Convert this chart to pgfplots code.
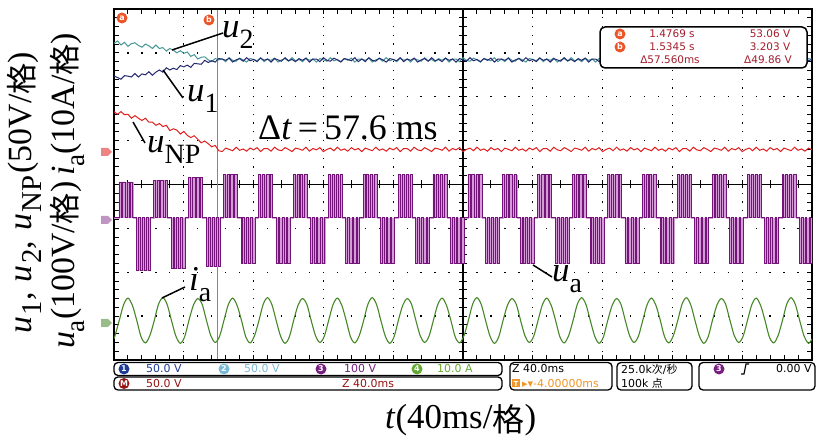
\documentclass[border=0pt]{standalone}
\usepackage{pgfplots}
\pgfplotsset{compat=1.18}
\usepackage{pgfplotstable}
\usepackage{fontspec}
\setmainfont{Liberation Serif}
\newfontfamily\cjk{Noto Sans CJK SC}
\newfontfamily\osc{DejaVu Sans}
\definecolor{cU1}{RGB}{35,40,110}
\definecolor{cU2}{RGB}{70,150,150}
\definecolor{cNP}{RGB}{225,30,30}
\definecolor{cUa}{RGB}{115,20,120}
\definecolor{cUaL}{RGB}{212,155,215}
\definecolor{cIa}{RGB}{70,135,40}
\definecolor{cCur}{RGB}{225,95,95}
\definecolor{cOr}{RGB}{235,85,40}
\definecolor{cRd}{RGB}{165,30,45}
\definecolor{chA}{RGB}{30,60,150}
\definecolor{chB}{RGB}{120,185,215}
\definecolor{chC}{RGB}{120,30,130}
\definecolor{chD}{RGB}{100,170,50}
\definecolor{chM}{RGB}{150,20,20}
\definecolor{cTrig}{RGB}{240,150,40}
\newcommand{\sub}[1]{\raisebox{-0.3em}{\scalebox{0.8}{#1}}}
\newcommand{\subw}[1]{\hspace{0.05em}\raisebox{-0.3em}{\scalebox{0.85}{#1}}}
\newcommand{\gechar}{{\cjk\raisebox{-0.06em}{\scalebox{0.92}{格}}}}
\newcommand{\chan}[4]{\fill[#3] (#1,#2) circle (5.5); \node[white, font=\osc\bfseries\fontsize{8}{8}\selectfont, inner sep=0] at (#1,#2) {#4};}

\pgfplotstableread{
x u2 u1 unp
0.00 3.22 2.47 1.66
0.05 3.27 2.44 1.60
0.10 3.18 2.40 1.66
0.15 3.24 2.48 1.59
0.20 3.15 2.47 1.60
0.25 3.21 2.45 1.51
0.30 3.23 2.53 1.57
0.35 3.17 2.45 1.51
0.40 3.13 2.52 1.46
0.45 3.20 2.50 1.51
0.50 3.16 2.57 1.42
0.55 3.10 2.49 1.42
0.60 3.18 2.56 1.35
0.65 3.10 2.61 1.39
0.70 3.12 2.56 1.32
0.75 3.04 2.66 1.35
0.80 3.10 2.61 1.23
0.85 3.06 2.65 1.27
0.90 3.00 2.62 1.24
0.95 3.05 2.71 1.15
1.00 2.99 2.68 1.21
1.05 3.02 2.72 1.12
1.10 2.92 2.67 1.07
1.15 2.96 2.76 1.11
1.20 2.86 2.75 1.03
1.25 2.90 2.74 0.95
1.30 2.91 2.83 0.99
1.35 2.84 2.78 0.93
1.40 2.80 2.82 0.86
1.45 2.87 2.79 0.89
1.50 2.84 2.87 0.77
1.55 2.86 2.86 0.75
1.60 2.80 2.83 0.83
1.65 2.89 2.88 0.80
1.70 2.83 2.79 0.77
1.75 2.81 2.84 0.85
1.80 2.88 2.87 0.78
1.85 2.84 2.81 0.81
1.90 2.79 2.89 0.76
1.95 2.87 2.82 0.83
2.00 2.85 2.85 0.79
2.05 2.82 2.80 0.84
2.10 2.89 2.88 0.75
2.15 2.80 2.83 0.82
2.20 2.86 2.86 0.82
2.25 2.83 2.79 0.76
2.30 2.88 2.87 0.85
2.35 2.79 2.84 0.79
2.40 2.84 2.81 0.77
2.45 2.87 2.89 0.84
2.50 2.81 2.82 0.80
2.55 2.89 2.85 0.75
2.60 2.82 2.80 0.83
2.65 2.85 2.87 0.81
2.70 2.80 2.83 0.78
2.75 2.88 2.88 0.85
2.80 2.83 2.79 0.76
2.85 2.86 2.86 0.82
2.90 2.79 2.86 0.79
2.95 2.87 2.80 0.84
3.00 2.84 2.89 0.75
3.05 2.81 2.83 0.80
3.10 2.89 2.81 0.83
3.15 2.82 2.88 0.77
3.20 2.85 2.84 0.85
3.25 2.80 2.79 0.78
3.30 2.87 2.87 0.81
3.35 2.83 2.85 0.76
3.40 2.88 2.82 0.84
3.45 2.79 2.89 0.79
3.50 2.86 2.80 0.82
3.55 2.86 2.86 0.75
3.60 2.83 2.80 0.83
3.65 2.88 2.89 0.80
3.70 2.79 2.83 0.77
3.75 2.84 2.81 0.85
3.80 2.87 2.88 0.78
3.85 2.81 2.84 0.81
3.90 2.89 2.79 0.76
3.95 2.82 2.87 0.83
4.00 2.85 2.85 0.79
4.05 2.80 2.82 0.84
4.10 2.88 2.89 0.75
4.15 2.83 2.80 0.82
4.20 2.86 2.86 0.82
4.25 2.79 2.83 0.76
4.30 2.87 2.88 0.85
4.35 2.84 2.79 0.79
4.40 2.81 2.84 0.77
4.45 2.89 2.87 0.84
4.50 2.82 2.81 0.80
4.55 2.85 2.89 0.75
4.60 2.80 2.82 0.83
4.65 2.87 2.85 0.81
4.70 2.83 2.80 0.78
4.75 2.88 2.88 0.85
4.80 2.79 2.83 0.76
4.85 2.86 2.86 0.82
4.90 2.86 2.79 0.79
4.95 2.80 2.87 0.84
5.00 2.89 2.84 0.75
5.05 2.83 2.81 0.80
5.10 2.81 2.89 0.83
5.15 2.88 2.82 0.77
5.20 2.84 2.85 0.85
5.25 2.79 2.80 0.78
5.30 2.87 2.87 0.81
5.35 2.85 2.83 0.76
5.40 2.82 2.88 0.84
5.45 2.89 2.79 0.79
5.50 2.80 2.86 0.82
5.55 2.86 2.86 0.75
5.60 2.80 2.83 0.83
5.65 2.89 2.88 0.80
5.70 2.83 2.79 0.77
5.75 2.81 2.84 0.85
5.80 2.88 2.87 0.78
5.85 2.84 2.81 0.81
5.90 2.79 2.89 0.76
5.95 2.87 2.82 0.83
6.00 2.85 2.85 0.79
6.05 2.82 2.80 0.84
6.10 2.89 2.88 0.75
6.15 2.80 2.83 0.82
6.20 2.86 2.86 0.82
6.25 2.83 2.79 0.76
6.30 2.88 2.87 0.85
6.35 2.79 2.84 0.79
6.40 2.84 2.81 0.77
6.45 2.87 2.89 0.84
6.50 2.81 2.82 0.80
6.55 2.89 2.85 0.75
6.60 2.82 2.80 0.83
6.65 2.85 2.87 0.81
6.70 2.80 2.83 0.78
6.75 2.88 2.88 0.85
6.80 2.83 2.79 0.76
6.85 2.86 2.86 0.82
6.90 2.79 2.86 0.79
6.95 2.87 2.80 0.84
7.00 2.84 2.89 0.75
7.05 2.81 2.83 0.80
7.10 2.89 2.81 0.83
7.15 2.82 2.88 0.77
7.20 2.85 2.84 0.85
7.25 2.80 2.79 0.78
7.30 2.87 2.87 0.81
7.35 2.83 2.85 0.76
7.40 2.88 2.82 0.84
7.45 2.79 2.89 0.79
7.50 2.86 2.80 0.82
7.55 2.86 2.86 0.75
7.60 2.83 2.80 0.83
7.65 2.88 2.89 0.80
7.70 2.79 2.83 0.77
7.75 2.84 2.81 0.85
7.80 2.87 2.88 0.78
7.85 2.81 2.84 0.81
7.90 2.89 2.79 0.76
7.95 2.82 2.87 0.83
8.00 2.85 2.85 0.79
8.05 2.80 2.82 0.84
8.10 2.88 2.89 0.75
8.15 2.83 2.80 0.82
8.20 2.86 2.86 0.82
8.25 2.79 2.83 0.76
8.30 2.87 2.88 0.85
8.35 2.84 2.79 0.79
8.40 2.81 2.84 0.77
8.45 2.89 2.87 0.84
8.50 2.82 2.81 0.80
8.55 2.85 2.89 0.75
8.60 2.80 2.82 0.83
8.65 2.87 2.85 0.81
8.70 2.83 2.80 0.78
8.75 2.88 2.88 0.85
8.80 2.79 2.83 0.76
8.85 2.86 2.86 0.82
8.90 2.86 2.79 0.79
8.95 2.80 2.87 0.84
9.00 2.89 2.84 0.75
9.05 2.83 2.81 0.80
9.10 2.81 2.89 0.83
9.15 2.88 2.82 0.77
9.20 2.84 2.85 0.85
9.25 2.79 2.80 0.78
9.30 2.87 2.87 0.81
9.35 2.85 2.83 0.76
9.40 2.82 2.88 0.84
9.45 2.89 2.79 0.79
9.50 2.80 2.86 0.82
9.55 2.86 2.86 0.75
9.60 2.80 2.83 0.83
9.65 2.89 2.88 0.80
9.70 2.83 2.79 0.77
9.75 2.81 2.84 0.85
9.80 2.88 2.87 0.78
9.85 2.84 2.81 0.81
9.90 2.79 2.89 0.76
9.95 2.87 2.82 0.83
10.00 2.85 2.85 0.79
}\dcs

\begin{document}
\begin{tikzpicture}[x=1bp,y=1bp]
\useasboundingbox (0,0) rectangle (824,445);
% dotted graticule
\foreach \i in {1,2,3,4,6,7,8,9} {
  \draw[black, line width=1.3bp, dash pattern=on 1.3bp off 7.475bp, dash phase=0.65bp] ({114+69.8*\i},85) -- ({114+69.8*\i},436);
}
\foreach \j in {1,2,3,5,6,7} {
  \draw[black, line width=1.3bp, dash pattern=on 1.3bp off 12.66bp, dash phase=0.65bp] (114,{85+43.875*\j}) -- (812,{85+43.875*\j});
}
% centre crosshair
\draw[line width=1.2bp] (463,85) -- (463,436);
\draw[line width=1.2bp] (114,260.5) -- (812,260.5);
\foreach \k in {1,...,39} { \draw[line width=1bp] (459,{85+8.775*\k}) -- (467,{85+8.775*\k}); }
\foreach \k in {1,...,49} { \draw[line width=1bp] ({114+13.96*\k},256.5) -- ({114+13.96*\k},264.5); }
% cursor b
\draw[cCur, line width=1bp] (217,85) -- (217,436);

\begin{axis}[at={(114bp,85bp)}, anchor=south west, scale only axis,
  width=698bp, height=351bp, xmin=0, xmax=10, ymin=-4, ymax=4,
  xtick={0,...,10}, ytick={-4,...,4}, minor x tick num=4, minor y tick num=4,
  xticklabels={}, yticklabels={}, tick align=inside,
  major tick length=5bp, minor tick length=5bp,
  tick style={black, line width=1bp}, axis line style={line width=1.5bp}]
% u_a envelope
\addplot[const plot, draw=cUaL, fill=cUaL, line width=0.5bp] coordinates {
(0,-0.76)
(0.07,0.06)(0.27,-0.76)(0.32,-1.95)(0.52,-0.76)(0.57,0.10)(0.77,-0.76)(0.82,-1.92)(1.02,-0.76)
(1.07,0.16)(1.27,-0.76)(1.32,-1.86)(1.52,-0.76)(1.57,0.22)(1.77,-0.76)(1.82,-1.8)(2.02,-0.76)
(2.07,0.22)(2.27,-0.76)(2.32,-1.8)(2.52,-0.76)(2.57,0.22)(2.77,-0.76)(2.82,-1.8)(3.02,-0.76)
(3.07,0.22)(3.27,-0.76)(3.32,-1.8)(3.52,-0.76)(3.57,0.22)(3.77,-0.76)(3.82,-1.8)(4.02,-0.76)
(4.07,0.22)(4.27,-0.76)(4.32,-1.8)(4.52,-0.76)(4.57,0.22)(4.77,-0.76)(4.82,-1.8)(5.02,-0.76)
(5.07,0.22)(5.27,-0.76)(5.32,-1.8)(5.52,-0.76)(5.57,0.22)(5.77,-0.76)(5.82,-1.8)(6.02,-0.76)
(6.07,0.22)(6.27,-0.76)(6.32,-1.8)(6.52,-0.76)(6.57,0.22)(6.77,-0.76)(6.82,-1.8)(7.02,-0.76)
(7.07,0.22)(7.27,-0.76)(7.32,-1.8)(7.52,-0.76)(7.57,0.22)(7.77,-0.76)(7.82,-1.8)(8.02,-0.76)
(8.07,0.22)(8.27,-0.76)(8.32,-1.8)(8.52,-0.76)(8.57,0.22)(8.77,-0.76)(8.82,-1.8)(9.02,-0.76)
(9.07,0.22)(9.27,-0.76)(9.32,-1.8)(9.52,-0.76)(9.57,0.22)(9.77,-0.76)(9.82,-1.8)(10.02,-0.76)
};
% u_a pulses
\addplot[const plot, draw=cUa, line width=0.7bp] coordinates {
(0,-0.76)
(0.07,0.06)(0.10,-0.76)(0.125,0.06)(0.16,-0.76)(0.185,0.06)(0.22,-0.76)(0.24,0.06)(0.27,-0.76)(0.32,-1.95)(0.35,-0.76)(0.375,-1.95)(0.41,-0.76)(0.435,-1.95)(0.47,-0.76)(0.49,-1.95)(0.52,-0.76)
(0.57,0.10)(0.595,-0.76)(0.62,0.10)(0.65,-0.76)(0.67,0.10)(0.705,-0.76)(0.73,0.10)(0.77,-0.76)(0.82,-1.92)(0.845,-0.76)(0.87,-1.92)(0.90,-0.76)(0.92,-1.92)(0.955,-0.76)(0.98,-1.92)(1.02,-0.76)
(1.07,0.16)(1.10,-0.76)(1.125,0.16)(1.16,-0.76)(1.185,0.16)(1.22,-0.76)(1.24,0.16)(1.27,-0.76)(1.32,-1.86)(1.35,-0.76)(1.375,-1.86)(1.41,-0.76)(1.435,-1.86)(1.47,-0.76)(1.49,-1.86)(1.52,-0.76)
(1.57,0.22)(1.595,-0.76)(1.62,0.22)(1.65,-0.76)(1.67,0.22)(1.705,-0.76)(1.73,0.22)(1.77,-0.76)(1.82,-1.8)(1.845,-0.76)(1.87,-1.8)(1.90,-0.76)(1.92,-1.8)(1.955,-0.76)(1.98,-1.8)(2.02,-0.76)
(2.07,0.22)(2.10,-0.76)(2.125,0.22)(2.16,-0.76)(2.185,0.22)(2.22,-0.76)(2.24,0.22)(2.27,-0.76)(2.32,-1.8)(2.35,-0.76)(2.375,-1.8)(2.41,-0.76)(2.435,-1.8)(2.47,-0.76)(2.49,-1.8)(2.52,-0.76)
(2.57,0.22)(2.595,-0.76)(2.62,0.22)(2.65,-0.76)(2.67,0.22)(2.705,-0.76)(2.73,0.22)(2.77,-0.76)(2.82,-1.8)(2.845,-0.76)(2.87,-1.8)(2.90,-0.76)(2.92,-1.8)(2.955,-0.76)(2.98,-1.8)(3.02,-0.76)
(3.07,0.22)(3.10,-0.76)(3.125,0.22)(3.16,-0.76)(3.185,0.22)(3.22,-0.76)(3.24,0.22)(3.27,-0.76)(3.32,-1.8)(3.35,-0.76)(3.375,-1.8)(3.41,-0.76)(3.435,-1.8)(3.47,-0.76)(3.49,-1.8)(3.52,-0.76)
(3.57,0.22)(3.595,-0.76)(3.62,0.22)(3.65,-0.76)(3.67,0.22)(3.705,-0.76)(3.73,0.22)(3.77,-0.76)(3.82,-1.8)(3.845,-0.76)(3.87,-1.8)(3.90,-0.76)(3.92,-1.8)(3.955,-0.76)(3.98,-1.8)(4.02,-0.76)
(4.07,0.22)(4.10,-0.76)(4.125,0.22)(4.16,-0.76)(4.185,0.22)(4.22,-0.76)(4.24,0.22)(4.27,-0.76)(4.32,-1.8)(4.35,-0.76)(4.375,-1.8)(4.41,-0.76)(4.435,-1.8)(4.47,-0.76)(4.49,-1.8)(4.52,-0.76)
(4.57,0.22)(4.595,-0.76)(4.62,0.22)(4.65,-0.76)(4.67,0.22)(4.705,-0.76)(4.73,0.22)(4.77,-0.76)(4.82,-1.8)(4.845,-0.76)(4.87,-1.8)(4.90,-0.76)(4.92,-1.8)(4.955,-0.76)(4.98,-1.8)(5.02,-0.76)
(5.07,0.22)(5.10,-0.76)(5.125,0.22)(5.16,-0.76)(5.185,0.22)(5.22,-0.76)(5.24,0.22)(5.27,-0.76)(5.32,-1.8)(5.35,-0.76)(5.375,-1.8)(5.41,-0.76)(5.435,-1.8)(5.47,-0.76)(5.49,-1.8)(5.52,-0.76)
(5.57,0.22)(5.595,-0.76)(5.62,0.22)(5.65,-0.76)(5.67,0.22)(5.705,-0.76)(5.73,0.22)(5.77,-0.76)(5.82,-1.8)(5.845,-0.76)(5.87,-1.8)(5.90,-0.76)(5.92,-1.8)(5.955,-0.76)(5.98,-1.8)(6.02,-0.76)
(6.07,0.22)(6.10,-0.76)(6.125,0.22)(6.16,-0.76)(6.185,0.22)(6.22,-0.76)(6.24,0.22)(6.27,-0.76)(6.32,-1.8)(6.35,-0.76)(6.375,-1.8)(6.41,-0.76)(6.435,-1.8)(6.47,-0.76)(6.49,-1.8)(6.52,-0.76)
(6.57,0.22)(6.595,-0.76)(6.62,0.22)(6.65,-0.76)(6.67,0.22)(6.705,-0.76)(6.73,0.22)(6.77,-0.76)(6.82,-1.8)(6.845,-0.76)(6.87,-1.8)(6.90,-0.76)(6.92,-1.8)(6.955,-0.76)(6.98,-1.8)(7.02,-0.76)
(7.07,0.22)(7.10,-0.76)(7.125,0.22)(7.16,-0.76)(7.185,0.22)(7.22,-0.76)(7.24,0.22)(7.27,-0.76)(7.32,-1.8)(7.35,-0.76)(7.375,-1.8)(7.41,-0.76)(7.435,-1.8)(7.47,-0.76)(7.49,-1.8)(7.52,-0.76)
(7.57,0.22)(7.595,-0.76)(7.62,0.22)(7.65,-0.76)(7.67,0.22)(7.705,-0.76)(7.73,0.22)(7.77,-0.76)(7.82,-1.8)(7.845,-0.76)(7.87,-1.8)(7.90,-0.76)(7.92,-1.8)(7.955,-0.76)(7.98,-1.8)(8.02,-0.76)
(8.07,0.22)(8.10,-0.76)(8.125,0.22)(8.16,-0.76)(8.185,0.22)(8.22,-0.76)(8.24,0.22)(8.27,-0.76)(8.32,-1.8)(8.35,-0.76)(8.375,-1.8)(8.41,-0.76)(8.435,-1.8)(8.47,-0.76)(8.49,-1.8)(8.52,-0.76)
(8.57,0.22)(8.595,-0.76)(8.62,0.22)(8.65,-0.76)(8.67,0.22)(8.705,-0.76)(8.73,0.22)(8.77,-0.76)(8.82,-1.8)(8.845,-0.76)(8.87,-1.8)(8.90,-0.76)(8.92,-1.8)(8.955,-0.76)(8.98,-1.8)(9.02,-0.76)
(9.07,0.22)(9.10,-0.76)(9.125,0.22)(9.16,-0.76)(9.185,0.22)(9.22,-0.76)(9.24,0.22)(9.27,-0.76)(9.32,-1.8)(9.35,-0.76)(9.375,-1.8)(9.41,-0.76)(9.435,-1.8)(9.47,-0.76)(9.49,-1.8)(9.52,-0.76)
(9.57,0.22)(9.595,-0.76)(9.62,0.22)(9.65,-0.76)(9.67,0.22)(9.705,-0.76)(9.73,0.22)(9.77,-0.76)(9.82,-1.8)(9.845,-0.76)(9.87,-1.8)(9.90,-0.76)(9.92,-1.8)(9.955,-0.76)(9.98,-1.8)(10.02,-0.76)
};
% i_a
\addplot[smooth, cIa, line width=1.1bp] coordinates {
(0,-3.51)(0.0125,-3.46)(0.075,-3.10)(0.1375,-2.74)
(0.2,-2.59)(0.2625,-2.75)(0.325,-3.09)(0.3875,-3.47)(0.45,-3.61)(0.5125,-3.45)(0.575,-3.11)(0.6375,-2.73)
(0.7,-2.58)(0.7625,-2.74)(0.825,-3.11)(0.8875,-3.46)(0.95,-3.62)(1.0125,-3.47)(1.075,-3.09)(1.1375,-2.75)
(1.2,-2.60)(1.2625,-2.73)(1.325,-3.10)(1.3875,-3.45)(1.45,-3.60)(1.5125,-3.46)(1.575,-3.10)(1.6375,-2.74)
(1.7,-2.59)(1.7625,-2.75)(1.825,-3.09)(1.8875,-3.47)(1.95,-3.61)(2.0125,-3.45)(2.075,-3.11)(2.1375,-2.73)
(2.2,-2.58)(2.2625,-2.74)(2.325,-3.11)(2.3875,-3.46)(2.45,-3.62)(2.5125,-3.47)(2.575,-3.09)(2.6375,-2.75)
(2.7,-2.60)(2.7625,-2.73)(2.825,-3.10)(2.8875,-3.45)(2.95,-3.60)(3.0125,-3.46)(3.075,-3.10)(3.1375,-2.74)
(3.2,-2.59)(3.2625,-2.75)(3.325,-3.09)(3.3875,-3.47)(3.45,-3.61)(3.5125,-3.45)(3.575,-3.11)(3.6375,-2.73)
(3.7,-2.58)(3.7625,-2.74)(3.825,-3.11)(3.8875,-3.46)(3.95,-3.62)(4.0125,-3.47)(4.075,-3.09)(4.1375,-2.75)
(4.2,-2.60)(4.2625,-2.73)(4.325,-3.10)(4.3875,-3.45)(4.45,-3.60)(4.5125,-3.46)(4.575,-3.10)(4.6375,-2.74)
(4.7,-2.59)(4.7625,-2.75)(4.825,-3.09)(4.8875,-3.47)(4.95,-3.61)(5.0125,-3.45)(5.075,-3.11)(5.1375,-2.73)
(5.2,-2.58)(5.2625,-2.74)(5.325,-3.11)(5.3875,-3.46)(5.45,-3.62)(5.5125,-3.47)(5.575,-3.09)(5.6375,-2.75)
(5.7,-2.60)(5.7625,-2.73)(5.825,-3.10)(5.8875,-3.45)(5.95,-3.60)(6.0125,-3.46)(6.075,-3.10)(6.1375,-2.74)
(6.2,-2.59)(6.2625,-2.75)(6.325,-3.09)(6.3875,-3.47)(6.45,-3.61)(6.5125,-3.45)(6.575,-3.11)(6.6375,-2.73)
(6.7,-2.58)(6.7625,-2.74)(6.825,-3.11)(6.8875,-3.46)(6.95,-3.62)(7.0125,-3.47)(7.075,-3.09)(7.1375,-2.75)
(7.2,-2.60)(7.2625,-2.73)(7.325,-3.10)(7.3875,-3.45)(7.45,-3.60)(7.5125,-3.46)(7.575,-3.10)(7.6375,-2.74)
(7.7,-2.59)(7.7625,-2.75)(7.825,-3.09)(7.8875,-3.47)(7.95,-3.61)(8.0125,-3.45)(8.075,-3.11)(8.1375,-2.73)
(8.2,-2.58)(8.2625,-2.74)(8.325,-3.11)(8.3875,-3.46)(8.45,-3.62)(8.5125,-3.47)(8.575,-3.09)(8.6375,-2.75)
(8.7,-2.60)(8.7625,-2.73)(8.825,-3.10)(8.8875,-3.45)(8.95,-3.60)(9.0125,-3.46)(9.075,-3.10)(9.1375,-2.74)
(9.2,-2.59)(9.2625,-2.75)(9.325,-3.09)(9.3875,-3.47)(9.45,-3.61)(9.5125,-3.45)(9.575,-3.11)(9.6375,-2.73)
(9.7,-2.58)(9.7625,-2.74)(9.825,-3.11)(9.8875,-3.46)(9.95,-3.62)(10.0,-3.52)
};
\addplot[cNP, line width=1bp] table[x=x, y=unp] {\dcs};
\addplot[cU2, line width=1bp] table[x=x, y=u2] {\dcs};
\addplot[cU1, line width=1bp] table[x=x, y=u1] {\dcs};
\end{axis}

% ground markers
\fill[cNP!55] (101,297) -- (108,297) -- (112,293) -- (108,289) -- (101,289) -- cycle;
\fill[cUa!45] (101,229) -- (108,229) -- (112,225) -- (108,221) -- (101,221) -- cycle;
\fill[cIa!55] (101,126) -- (108,126) -- (112,122) -- (108,118) -- (101,118) -- cycle;

% cursor markers
\chan{122}{427}{cOr}{a}
\chan{209}{425}{cOr}{b}

% cursor readout
\draw[line width=1.5bp, rounded corners=5bp, fill=white] (600,377) rectangle (807,418);
\chan{620}{411}{cOr}{a}
\chan{620}{398}{cOr}{b}
\begin{scope}[every node/.style={cRd, font=\osc\fontsize{10.5}{12}\selectfont, inner sep=0}]
\node at (672,411) {1.4769 s};
\node at (672,398) {1.5345 s};
\node at (670,385) {Δ57.560ms};
\node at (770,411) {53.06 V};
\node at (770,398) {3.203 V};
\node at (768,385) {Δ49.86 V};
\end{scope}

% trace labels
\begin{scope}[every node/.style={font=\fontsize{35}{40}\selectfont, inner sep=0, anchor=base west}]
\node at (222,407) {\textit{u}\sub{2}};
\node at (187,343) {\textit{u}\sub{1}};
\node at (147,292) {\textit{u}\sub{NP}};
\node at (189,154) {\textit{i}\sub{a}};
\node at (552,163) {\textit{u}\sub{a}};
\end{scope}
\node[font=\fontsize{36}{40}\selectfont, inner sep=0, anchor=base west] at (258,305) {Δ\textit{t}\,=\,57.6 ms};
\draw[line width=1.5bp] (223,412) -- (172,395);
\draw[line width=1.5bp] (163,375) -- (183,347);
\draw[line width=1.5bp] (133,323) -- (145,302);
\draw[line width=1.5bp] (185,158) -- (162,147);
\draw[line width=1.5bp] (533,180) -- (552,168);

% axis labels
\node[rotate=90, anchor=base, inner sep=0, font=\fontsize{34}{40}\selectfont] at (31,252) {\textit{u}\subw{1},\hspace{0.3em}\textit{u}\subw{2},\hspace{0.3em}\textit{u}\subw{NP}\hspace{0.05em}(50V/\gechar)};
\node[rotate=90, anchor=base, inner sep=0, font=\fontsize{34}{40}\selectfont] at (74,254) {\textit{u}\sub{a}(100V/\gechar)\,\textit{i}\sub{a}(10A/\gechar)};
\node[anchor=base west, inner sep=0, font=\fontsize{35}{40}\selectfont] at (385,16) {\textit{t}(40ms/\gechar)};

% status bar
\draw[line width=1.3bp, rounded corners=4bp] (114,69.5) rectangle (502,82.5);
\draw[line width=1.3bp, rounded corners=4bp] (114,55) rectangle (502,68);
\draw[line width=1.3bp, rounded corners=4bp] (510,55) rectangle (612,82.5);
\draw[line width=1.3bp, rounded corners=4bp] (617,55) rectangle (692,82.5);
\draw[line width=1.3bp, rounded corners=4bp] (699,55) rectangle (815,82.5);
\chan{124}{76}{chA}{1}
\chan{224}{76}{chB}{2}
\chan{321}{76}{chC}{3}
\chan{417}{76}{chD}{4}
\chan{124}{61.5}{chM}{M}
\chan{719}{76}{chC}{3}
\begin{scope}[every node/.style={font=\osc\fontsize{11}{12}\selectfont, inner sep=0, anchor=west}]
\node[chA] at (146,76) {50.0 V};
\node[chB] at (244,76) {50.0 V};
\node[chC] at (344,76) {100 V};
\node[chD] at (437,76) {10.0 A};
\node[chM] at (146,61.5) {50.0 V};
\node[chM] at (342,61.5) {Z 40.0ms};
\node[black] at (512,76) {Z 40.0ms};
\node[cTrig] at (522,61.5) {▸▾-4.00000ms};
\node[black] at (621,76) {25.0k{\cjk 次}/{\cjk 秒}};
\node[black] at (621,61.5) {100k {\cjk 点}};
\node[black] at (776,76) {0.00 V};
\end{scope}
\fill[cTrig] (512,57.5) rectangle (520,65.5);
\node[white, font=\osc\bfseries\fontsize{7}{7}\selectfont, inner sep=0] at (516,61.5) {T};
\draw[line width=1.1bp] (741,71) -- (744,71) -- (746,81) -- (749,81);
\end{tikzpicture}
\end{document}
